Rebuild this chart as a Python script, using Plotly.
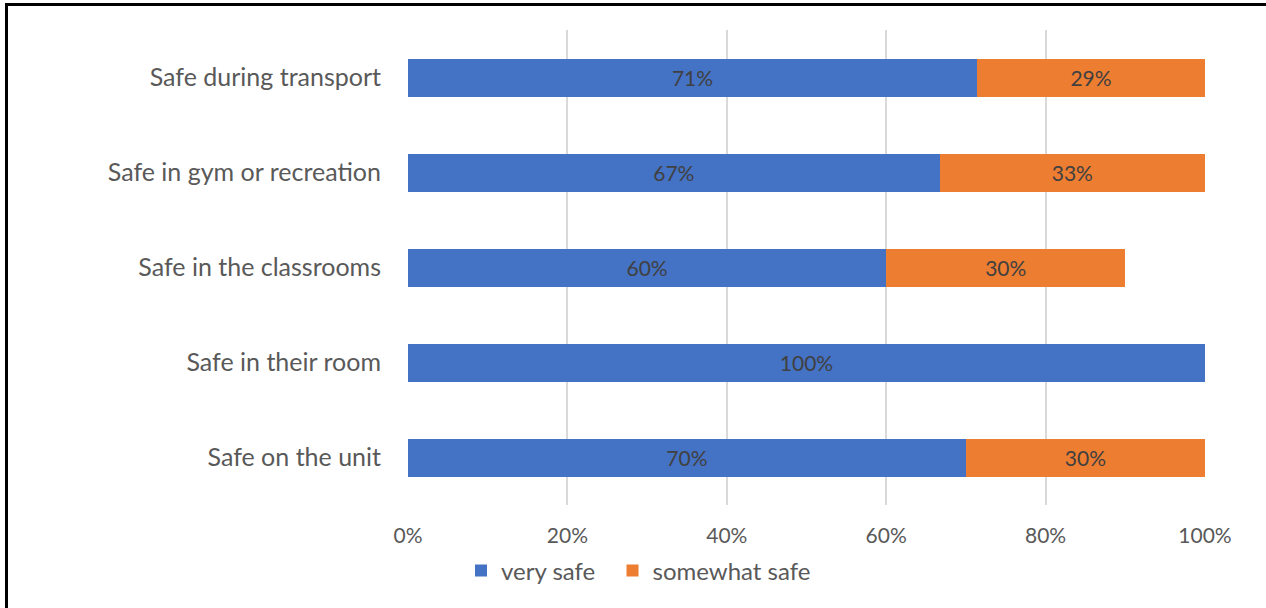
import plotly.graph_objects as go

categories = ["Safe on the unit", "Safe in their room", "Safe in the classrooms",
              "Safe in gym or recreation", "Safe during transport"]
very_safe = [0.70, 1.00, 0.60, 0.667, 0.714]
somewhat_safe = [0.30, 0.00, 0.30, 0.333, 0.286]
very_safe_labels = ["70%", "100%", "60%", "67%", "71%"]
somewhat_safe_labels = ["30%", "", "30%", "33%", "29%"]
tick_vals = [0, 0.2, 0.4, 0.6, 0.8, 1.0]
tick_text = ["0%", "20%", "40%", "60%", "80%", "100%"]
series_names = ["very safe", "somewhat safe"]

FONT = "Lato"
fig = go.Figure()
fig.add_trace(go.Bar(
    y=categories, x=very_safe, orientation="h",
    name=series_names[0] + "\u00a0\u00a0",
    marker=dict(color="#4472c4", line=dict(width=0)),
    text=very_safe_labels, texttemplate="%{text}", textposition="inside",
    insidetextanchor="middle", textangle=0,
    textfont=dict(color="#404040", size=21, family=FONT),
    hoverinfo="skip",
))
fig.add_trace(go.Bar(
    y=categories, x=somewhat_safe, orientation="h", name=series_names[1],
    marker=dict(color="#ed7d31", line=dict(width=0)),
    text=somewhat_safe_labels, texttemplate="%{text}", textposition="inside",
    insidetextanchor="middle", textangle=0,
    textfont=dict(color="#404040", size=21, family=FONT),
    hoverinfo="skip",
))

L, R, T, B = 408, 61, 30, 103
W, H = 1266, 608
pw, ph = W - L - R, H - T - B

def px(x):
    return (x - L) / pw

def py(y):
    return (H - B - y) / ph

fig.update_layout(
    width=W, height=H,
    barmode="stack", bargap=0.6,
    margin=dict(l=L, r=R, t=T, b=B, pad=0),
    paper_bgcolor="white", plot_bgcolor="white",
    font=dict(family=FONT, color="#595959", size=21),
    xaxis=dict(range=[0, 1], tickvals=tick_vals, ticktext=tick_text,
               showgrid=True, gridcolor="#d9d9d9", gridwidth=1.5,
               zeroline=False, showline=False, ticks="",
               tickfont=dict(size=21, color="#595959"), ticklabelstandoff=16),
    yaxis=dict(showgrid=False, zeroline=False, showline=False, ticks="",
               tickfont=dict(size=25, color="#595959"), ticklabelstandoff=26),
    showlegend=True,
    legend=dict(orientation="h", x=px(461), xanchor="left", y=py(571), yanchor="middle",
                font=dict(size=24, color="#595959"), traceorder="normal",
                itemwidth=30, bgcolor="rgba(0,0,0,0)"),
    shapes=[dict(type="rect", xref="paper", yref="paper",
                 x0=px(6.5), x1=px(1280), y0=py(620), y1=py(4.5),
                 line=dict(color="black", width=3), fillcolor="rgba(0,0,0,0)",
                 layer="above")],
)

fig.write_html("out.html", config={"displayModeBar": False},
               post_script="document.body.style.margin='0px';")
